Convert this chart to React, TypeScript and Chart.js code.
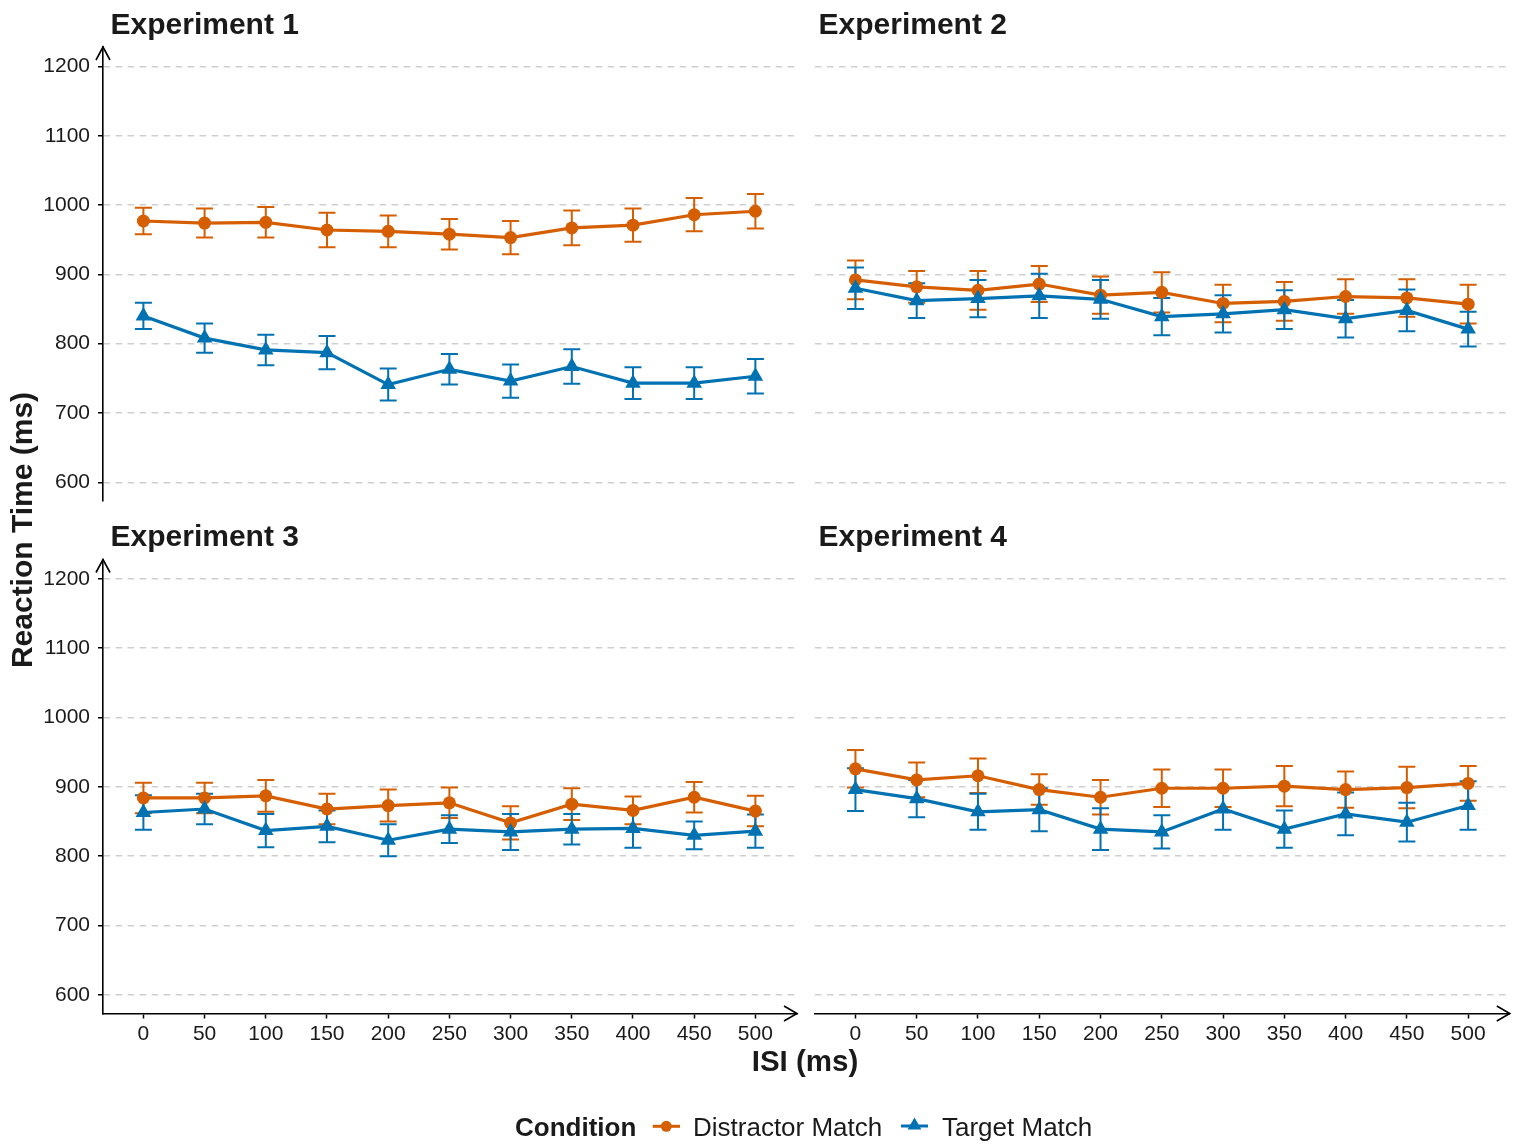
import React, { useEffect, useRef } from 'react';
import { Chart, registerables } from 'chart.js';

Chart.register(...registerables);

// ---------- data ----------
const isi = [0, 50, 100, 150, 200, 250, 300, 350, 400, 450, 500];
const yTicks = [600, 700, 800, 900, 1000, 1100, 1200];
const experimentTitles = ['Experiment 1', 'Experiment 2', 'Experiment 3', 'Experiment 4'];
const conditionNames = ['Distractor Match', 'Target Match'];

const e1Distractor = [977, 974, 975, 964, 962, 958, 953, 967, 971, 986, 991];
const e1DistractorSE = [19, 21, 22, 25, 23, 22, 24, 25, 24, 24, 25];
const e1Target = [840, 808, 791, 787, 741, 763, 746, 767, 743, 743, 753];
const e1TargetSE = [19, 21, 22, 24, 23, 22, 24, 25, 23, 23, 25];

const e2Distractor = [892, 882, 877, 886, 870, 874, 858, 861, 868, 866, 857];
const e2DistractorSE = [28, 23, 28, 26, 27, 29, 27, 28, 25, 27, 28];
const e2Target = [880, 862, 865, 869, 864, 839, 843, 849, 836, 848, 821];
const e2TargetSE = [30, 25, 27, 32, 28, 27, 27, 28, 27, 30, 25];

const e3Distractor = [884, 884, 887, 868, 873, 877, 848, 875, 866, 885, 865];
const e3DistractorSE = [22, 22, 23, 22, 23, 22, 24, 23, 20, 22, 22];
const e3Target = [863, 868, 837, 843, 823, 839, 835, 839, 840, 830, 836];
const e3TargetSE = [25, 22, 24, 23, 23, 20, 26, 22, 28, 20, 24];

const e4Distractor = [926, 910, 916, 896, 885, 898, 898, 901, 896, 899, 905];
const e4DistractorSE = [27, 25, 25, 22, 25, 27, 27, 29, 26, 30, 25];
const e4Target = [896, 883, 864, 867, 839, 835, 868, 839, 861, 849, 873];
const e4TargetSE = [31, 27, 26, 31, 30, 24, 30, 27, 31, 28, 35];

// ---------- style ----------
const ORANGE = '#D55E00';
const BLUE = '#0072B2';
const FONT = "'Liberation Sans', Arial, Helvetica, sans-serif";
const TEXT = '#1a1a1a';
const GRID = '#cfcfcf';
const CAP = 8.5;

const errorBarPlugin = {
  id: 'errorBars',
  beforeDatasetsDraw(chart: any) {
    const { ctx, scales } = chart;
    const xs = scales.x;
    const ys = scales.y;
    chart.data.datasets.forEach((ds: any) => {
      if (!ds.errors) return;
      ctx.save();
      ctx.strokeStyle = ds.errorColor;
      ctx.lineWidth = 2;
      ds.data.forEach((p: any, i: number) => {
        const px = xs.getPixelForValue(p.x);
        const yTop = ys.getPixelForValue(p.y + ds.errors[i]);
        const yBot = ys.getPixelForValue(p.y - ds.errors[i]);
        ctx.beginPath();
        ctx.moveTo(px, yTop);
        ctx.lineTo(px, yBot);
        ctx.moveTo(px - CAP, yTop);
        ctx.lineTo(px + CAP, yTop);
        ctx.moveTo(px - CAP, yBot);
        ctx.lineTo(px + CAP, yBot);
        ctx.stroke();
      });
      ctx.restore();
    });
  },
};

const arrowPlugin = {
  id: 'axisArrows',
  afterDraw(chart: any, _args: any, opts: any) {
    const { ctx, chartArea: a } = chart;
    ctx.save();
    ctx.strokeStyle = '#000';
    ctx.lineWidth = 1.6;
    if (opts.y) {
      ctx.beginPath();
      ctx.moveTo(a.left - 7, a.top + 13);
      ctx.lineTo(a.left, a.top);
      ctx.lineTo(a.left + 7, a.top + 13);
      ctx.stroke();
    }
    if (opts.x) {
      ctx.beginPath();
      ctx.moveTo(a.right - 13, a.bottom - 7.5);
      ctx.lineTo(a.right, a.bottom);
      ctx.lineTo(a.right - 13, a.bottom + 7.5);
      ctx.stroke();
    }
    ctx.restore();
  },
};

type PanelProps = {
  left: number;
  top: number;
  width: number;
  height: number;
  pad: { left: number; top: number; right: number; bottom: number };
  yAxis: boolean;
  xAxis: boolean;
  distractor: number[];
  distractorSE: number[];
  target: number[];
  targetSE: number[];
};

const X_AXIS_H = 40;

function zeroPad(scale: any) {
  scale.paddingTop = 0;
  scale.paddingBottom = 0;
  scale.paddingLeft = 0;
  scale.paddingRight = 0;
}

function Panel(p: PanelProps) {
  const ref = useRef<HTMLCanvasElement>(null);
  useEffect(() => {
    const dPts = isi.map((x, i) => ({ x, y: p.distractor[i] }));
    const tPts = isi.map((x, i) => ({ x, y: p.target[i] }));
    const chart = new Chart(ref.current as HTMLCanvasElement, {
      type: 'line',
      data: {
        datasets: [
          {
            label: conditionNames[0],
            data: dPts,
            borderColor: ORANGE,
            borderWidth: 3.2,
            pointRadius: 0,
            order: 4,
            errors: p.distractorSE,
            errorColor: ORANGE,
          } as any,
          {
            label: conditionNames[1],
            data: tPts,
            borderColor: BLUE,
            borderWidth: 3.2,
            pointRadius: 0,
            order: 3,
            errors: p.targetSE,
            errorColor: BLUE,
          } as any,
          {
            label: conditionNames[0] + ' points',
            data: dPts,
            showLine: false,
            pointStyle: 'circle',
            pointRadius: 6.5,
            pointBorderWidth: 0,
            pointBackgroundColor: ORANGE,
            borderColor: ORANGE,
            order: 2,
          },
          {
            label: conditionNames[1] + ' points',
            data: tPts,
            showLine: false,
            pointStyle: 'triangle',
            pointRadius: 9,
            pointBorderWidth: 0,
            pointBackgroundColor: BLUE,
            borderColor: BLUE,
            order: 1,
          },
        ],
      },
      options: {
        responsive: false,
        animation: false,
        devicePixelRatio: 1,
        layout: { padding: p.pad },
        plugins: {
          legend: { display: false },
          tooltip: { enabled: false },
          title: { display: false },
          axisArrows: { x: p.xAxis, y: p.yAxis },
        } as any,
        scales: {
          x: {
            type: 'linear',
            min: -33,
            max: 534,
            display: p.xAxis,
            afterBuildTicks: (s: any) => {
              s.ticks = isi.map((v) => ({ value: v }));
            },
            afterFit: (s: any) => {
              s.height = p.xAxis ? X_AXIS_H : 0;
              zeroPad(s);
            },
            ticks: {
              autoSkip: false,
              maxRotation: 0,
              padding: 3,
              color: TEXT,
              font: { family: FONT, size: 21 },
              callback: (v: any) => String(v),
            },
            grid: {
              display: true,
              drawOnChartArea: false,
              drawTicks: true,
              tickLength: 5,
              tickColor: '#000',
              tickWidth: 1.5,
            },
            border: { display: true, color: '#000', width: 1.6 },
          },
          y: {
            type: 'linear',
            min: 573,
            max: 1228,
            afterBuildTicks: (s: any) => {
              s.ticks = yTicks.map((v) => ({ value: v }));
            },
            afterFit: (s: any) => {
              s.width = p.yAxis ? 103 : 0;
              zeroPad(s);
            },
            ticks: {
              display: p.yAxis,
              padding: 8,
              color: TEXT,
              font: { family: FONT, size: 21 },
              callback: (v: any) => String(v),
            },
            grid: {
              display: true,
              drawOnChartArea: true,
              color: GRID,
              lineWidth: 1.5,
              drawTicks: p.yAxis,
              tickLength: 5,
              tickColor: '#000',
              tickWidth: 1.5,
              tickBorderDash: [],
            },
            border: { display: p.yAxis, color: '#000', width: 1.6, dash: [6.5, 5.5] },
          },
        },
      },
      plugins: [errorBarPlugin, arrowPlugin],
    } as any);
    return () => chart.destroy();
  }, []);
  return (
    <canvas
      ref={ref}
      width={p.width}
      height={p.height}
      style={{ position: 'absolute', left: p.left, top: p.top, width: p.width, height: p.height }}
    />
  );
}

function Label(props: {
  text: string;
  left: number;
  baseline: number;
  size: number;
  bold?: boolean;
  center?: boolean;
}) {
  const top = props.baseline - 0.8465 * props.size;
  return (
    <div
      style={{
        position: 'absolute',
        left: props.left,
        top,
        fontFamily: FONT,
        fontSize: props.size,
        lineHeight: props.size + 'px',
        fontWeight: props.bold ? 'bold' : 'normal',
        color: TEXT,
        whiteSpace: 'nowrap',
        transform: props.center ? 'translateX(-50%)' : undefined,
      }}
    >
      {props.text}
    </div>
  );
}

export default function App() {
  const topPad = { left: 0, top: 47, right: 4.5, bottom: 29 };
  const topPadR = { left: 5.3, top: 47, right: 15.2, bottom: 29 };
  const botPad = { left: 0, top: 29.5, right: 4.5, bottom: 132.5 - X_AXIS_H };
  const botPadR = { left: 5.3, top: 29.5, right: 15.2, bottom: 132.5 - X_AXIS_H };
  return (
    <div
      style={{
        position: 'absolute',
        left: 0,
        top: 0,
        width: 1525,
        height: 1146,
        background: '#fff',
        overflow: 'hidden',
      }}
    >
      <Panel left={0} top={0} width={806} height={530} pad={topPad} yAxis={true} xAxis={false}
        distractor={e1Distractor} distractorSE={e1DistractorSE} target={e1Target} targetSE={e1TargetSE} />
      <Panel left={806} top={0} width={719} height={530} pad={topPadR} yAxis={false} xAxis={false}
        distractor={e2Distractor} distractorSE={e2DistractorSE} target={e2Target} targetSE={e2TargetSE} />
      <Panel left={0} top={530} width={806} height={616} pad={botPad} yAxis={true} xAxis={true}
        distractor={e3Distractor} distractorSE={e3DistractorSE} target={e3Target} targetSE={e3TargetSE} />
      <Panel left={806} top={530} width={719} height={616} pad={botPadR} yAxis={false} xAxis={true}
        distractor={e4Distractor} distractorSE={e4DistractorSE} target={e4Target} targetSE={e4TargetSE} />

      <Label text={experimentTitles[0]} left={110.5} baseline={34.3} size={30} bold />
      <Label text={experimentTitles[1]} left={818.5} baseline={34.3} size={30} bold />
      <Label text={experimentTitles[2]} left={110.5} baseline={546.8} size={30} bold />
      <Label text={experimentTitles[3]} left={818.5} baseline={546.8} size={30} bold />

      <Label text="ISI (ms)" left={805} baseline={1070.7} size={29.5} bold center />

      <div
        style={{
          position: 'absolute',
          left: 22 - 200,
          top: 530 - 15,
          width: 400,
          height: 30,
          lineHeight: '30px',
          textAlign: 'center',
          fontFamily: FONT,
          fontSize: 30,
          fontWeight: 'bold',
          color: TEXT,
          whiteSpace: 'nowrap',
          transform: 'rotate(-90deg)',
          transformOrigin: '50% 50%',
        }}
      >
        Reaction Time (ms)
      </div>

      <Label text="Condition" left={515} baseline={1136.3} size={26} bold />
      <svg style={{ position: 'absolute', left: 650, top: 1115 }} width={34} height={24}>
        <line x1={2.7} x2={30} y1={11.3} y2={11.3} stroke={ORANGE} strokeWidth={3} />
        <circle cx={16.3} cy={11.3} r={5.5} fill={ORANGE} />
      </svg>
      <Label text={conditionNames[0]} left={693} baseline={1136.3} size={26} />
      <svg style={{ position: 'absolute', left: 898, top: 1114 }} width={34} height={24}>
        <line x1={3} x2={30} y1={12} y2={12} stroke={BLUE} strokeWidth={3} />
        <polygon points="16.5,3.5 23.4,15.5 9.6,15.5" fill={BLUE} />
      </svg>
      <Label text={conditionNames[1]} left={942} baseline={1136.3} size={26} />
    </div>
  );
}
